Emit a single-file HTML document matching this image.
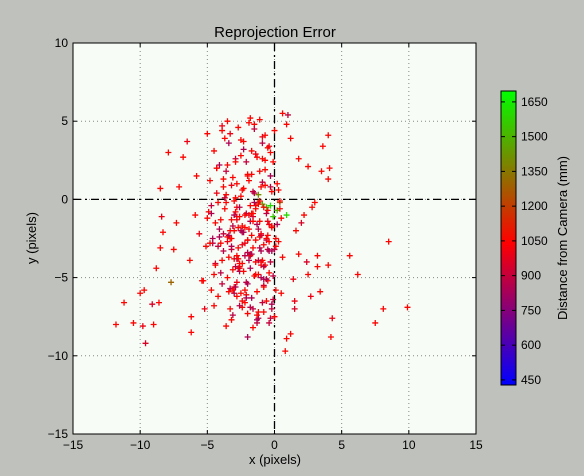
<!DOCTYPE html>
<html><head><meta charset="utf-8"><style>
html,body{margin:0;padding:0;background:#bfc1bd;}
svg{display:block;font-family:"Liberation Sans","DejaVu Sans",sans-serif;}
</style></head><body>
<svg id="chart" width="584" height="476" viewBox="0 0 584 476" xmlns="http://www.w3.org/2000/svg">
<rect x="0" y="0" width="584" height="476" fill="#bfc1bd"/>
<text x="275" y="37" font-size="15" text-anchor="middle" fill="#000">Reprojection Error</text>
<rect x="73" y="43" width="403" height="391" fill="#f7fcf7"/>
<g id="grid"></g>
<g id="refs"></g>
<g id="marks"></g>
<rect x="73" y="43" width="403" height="391" fill="none" stroke="#000" stroke-width="1"/>
<g id="ticks"></g>
<text x="275" y="464" font-size="13" text-anchor="middle">x (pixels)</text>
<text transform="translate(36,238) rotate(-90)" font-size="13" text-anchor="middle">y (pixels)</text>
<defs><linearGradient id="cmap" x1="0" y1="1" x2="0" y2="0">
<stop offset="0" stop-color="#0000ff"/><stop offset="0.484" stop-color="#ff0000"/><stop offset="1" stop-color="#00ff00"/>
</linearGradient></defs>
<rect x="501" y="91" width="15" height="294" fill="url(#cmap)" stroke="#000" stroke-width="1"/>
<g id="cbticks"></g>
<text transform="translate(567,238) rotate(-90)" font-size="13" text-anchor="middle">Distance from Camera (mm)</text>
</svg>
<script>
const xTicks=[-15,-10,-5,0,5,10,15];
const yTicks=[-15,-10,-5,0,5,10];
const cbTicks=[450,600,750,900,1050,1200,1350,1500,1650];
const ptX=[-11.8,-11.2,-10.5,-9.8,-9.6,-9.7,-10,-9.1,-9,-8.8,-8.6,-8.5,-8.3,-8.4,-8.5,-7.9,-7.7,-7.5,-7.3,-7.1,-6.8,-6.5,-6.3,-6.2,-6.2,-5.9,-5.8,-5.6,-5.4,-5.2,-5,-4.7,
9.9,8.5,8.1,7.5,6.2,5.6,4.2,4.3,4,4,4,3.6,3.4,3.2,3,2.8,2.5,2.4,2.2,1.8,1.5,1.2,1,0.9,0.8,0.5,0.2,1.5,2.7,3.5,1.8,2.5,1.4,3.2,4.1,
-0.6,-0.3,0.2,-0.1,0.9,-0.9,-1.2,0.4,
-4.8,-4.6,-4.5,-4.4,-4.3,-4.2,-4.1,-4.0,-3.9,-3.8,-3.7,-3.6,-3.5,-3.4,-3.3,-3.2,-3.1,-3.0,-2.9,-2.8,-2.7,-2.6,-2.5,-2.4,-2.3,-2.2,-2.1,-2.0,-1.9,-1.8,-1.7,-1.6,-1.5,-1.4,-1.3,-1.2,-1.1,-1.0,-0.9,-0.8,-0.7,-0.6,-0.5,-0.4,-0.3,-0.2,-0.1,0.0,0.1,0.3,
-4.7,-4.5,-4.3,-4.1,-3.9,-3.7,-3.5,-3.3,-3.1,-2.9,-2.7,-2.5,-2.3,-2.1,-1.9,-1.7,-1.5,-1.3,-1.1,-0.9,-0.7,-0.5,-0.3,-0.1,0.1,0.4,0.6,
-4.4,-4.0,-3.6,-3.2,-2.8,-2.4,-2.0,-1.6,-1.2,-0.8,-0.4,0.0,0.5,-3.8,-3.4,-3.0,-2.6,-2.2,-1.8,-1.4,-1.0,-0.6,-0.2,
-4.9,-4.2,-3.5,-2.8,-2.1,-1.4,-0.7,0.1,-3.9,-3.2,-2.5,-1.8,-1.1,-0.4,-4.6,-3.0,-2.3,-1.6,-0.9,-0.2,-2.7,-2.0,-1.3,-0.5,
-3.6,-2.9,-2.2,-1.5,-0.8,-0.1,-3.3,-2.6,-1.9,-1.2,-0.5,-2.4,-1.7,-1.0,-3.1,-2.0,-1.1,-0.3,-4.0,-2.8,-1.9,-0.9,
-3.0,-2.6,-2.2,-1.8,-1.4,-1.0,-0.6,-0.2,-3.2,-2.8,-2.4,-2.0,-1.6,-1.2,-0.8,-0.4,-3.4,-3.0,-2.6,-2.2,-1.8,-1.4,-1.0,-0.6,
-3.1,-2.7,-2.3,-1.9,-1.5,-1.1,-0.7,-0.3,-3.5,-2.9,-2.5,-2.1,-1.7,-1.3,-0.9,-0.5,-3.7,-3.3,-2.9,-2.5,-2.1,-1.7,-1.3,-0.9,
-2.8,-2.4,-2.0,-1.6,-1.2,-0.8,-0.4,0.0,-3.6,-3.2,-2.8,-2.4,-2.0,-1.6,-1.2,-0.8,-4.2,-3.8,-3.4,-2.6,-1.8,-1.0,-0.2,0.3,
-2.7,-2.3,-1.9,-1.5,-1.1,-0.7,-3.9,-3.5,-3.1,-4.5,-4.1,-5.1,-5.3,-4.8,-4.4,-0.3,0.2,0.6,0.9,1.2,1.6,2.0,-0.5,0.4,
-1.6,-1.2,-0.8,-0.4,-2.0,-2.4,-2.8,-3.2,-1.4,-1.0,-0.6,-2.2,-2.6,-3.0,-1.8,-0.2,-3.8,-4.3,-4.7,-5.0,-2.9,-3.3,-1.7,-1.3];
const ptY=[-8,-6.6,-7.9,-8.1,-9.2,-5.8,-6,-6.7,-8,-4.4,-6.6,-3.1,-2.1,-1.1,0.7,3,-5.3,-3.2,-1.5,0.8,2.7,3.7,-3.9,-7.5,-8.5,-1,1.5,-2.2,-5.2,-7,4.2,-5.8,
-6.9,-2.7,-7,-7.9,-4.8,-3.6,-8.8,-7.6,-4.2,4.1,1.3,3.4,-5.9,-3.6,-0.2,-0.5,2.1,-4,-1,-3.5,-6.5,-8.6,5.4,-8.9,-9.7,-6,1,-7,-6.2,1.8,2.6,-4.8,-5.1,-4.3,2,
-0.5,-0.4,-0.7,-1.1,-1,-0.3,-0.2,-0.2,
1.2,-2.5,3.1,-4.1,0.4,-6.2,2.2,-1.3,4.4,-3.3,-0.6,1.8,-5.0,3.6,-2.0,0.9,-7.4,-3.8,2.6,-1.1,4.6,-4.6,0.2,-2.9,3.2,-6.6,-0.9,1.5,-3.6,5.2,-2.3,0.5,-4.9,2.9,-1.6,-7.2,-3.1,0.8,4.0,-5.5,1.9,-2.6,-0.7,3.4,-4.0,-1.8,2.4,-3.2,-5.8,0.6,
-0.4,-6.8,2.0,-1.9,-3.9,0.1,-2.7,-5.7,1.4,-0.8,-4.4,3.8,-2.1,-6.1,-1.0,-3.5,4.8,-7.9,-2.4,1.1,-4.2,-1.4,3.0,-6.4,-3.0,-0.1,-3.7,
-1.5,-4.7,-0.2,-3.0,-5.3,-1.7,-3.4,-8.2,-0.3,-5.1,-2.7,4.4,-1.2,-2.2,-5.9,-1.0,-4.3,-2.8,-6.9,-0.4,-3.3,-2.5,-7.0,
-0.8,-3.0,-2.4,-0.5,-6.3,-4.0,2.5,-2.5,-5.4,-1.3,-2.0,-3.6,-0.1,-1.6,-2.8,-6.0,-4.6,-1.1,-3.9,-6.7,-3.1,-2.6,-7.7,-5.2,
0.3,-4.3,-1.8,-0.2,-5.6,-4.9,-7.0,-4.4,-3.9,-4.8,-3.2,-6.5,-0.9,-2.3,-5.8,-8.8,-1.4,-7.6,-2.8,-3.8,-1.9,2.6,-5.6,-0.5,
-1.0,-1.4,-0.6,-2.2,-0.9,-1.7,-2.5,-1.3,-2.1,-2.6,-3.1,-1.9,-2.9,-3.3,-3.7,-2.0,-4.1,-3.6,-4.4,-4.8,-4.2,-5.1,-4.5,-3.8,
0.7,1.2,0.4,1.8,0.9,1.5,2.2,0.1,2.8,2.4,3.1,2.7,3.6,3.3,3.9,4.2,-5.6,-6.0,-5.3,-6.3,-5.9,-6.6,-6.2,-6.9,
-7.3,-7.0,-7.6,-7.2,-7.9,-7.5,-8.1,-7.7,1.0,0.6,1.6,-0.9,0.3,-0.5,-0.2,0.8,-2.3,-1.1,-3.5,-4.0,-3.3,-2.7,-1.8,3.7,
4.9,4.5,5.1,4.1,4.7,5.0,-1.7,-4.8,-2.4,-3.0,-5.2,-2.8,-4.2,0.8,-1.6,5.5,4.8,3.9,-2.0,-1.5,-2.3,-0.6,-1.4,-3.9,
-4.3,-4.7,-5.4,-4.1,-3.6,-3.2,-2.6,-5.0,-6.5,-5.8,-6.8,-0.1,-0.4,0.5,1.3,2.0,-0.9,-1.2,2.4,-2.5,1.6,-7.4,-8.4,-8.8];
const ptD=[1050,1050,1050,1000,950,1050,1050,950,1050,1050,1050,1050,1050,1000,1050,1050,1300,1050,1050,1050,1050,1000,1050,1050,1050,1050,1050,1000,1050,1000,1050,1050,
1050,1050,1050,1050,1050,1050,1050,1000,1050,1050,1050,1050,1050,1050,1050,1050,1050,950,1050,1050,1000,1050,900,1050,1050,1050,1050,950,1000,1050,1050,1050,1000,1050,1050,
1550,1600,1500,1550,1600,1450,1400,1300,
1050,850,1050,900,1000,1050,850,1050,1050,880,1050,900,1050,850,1050,1000,880,1050,900,1050,1050,850,1050,1000,850,1050,900,1050,850,1050,1050,900,1050,1000,850,1050,880,1050,1000,900,1050,850,1050,1000,900,1050,1050,880,1050,1050,
900,1050,1050,850,1050,900,1000,850,1050,1050,900,1050,850,1050,1000,850,1050,900,1050,880,1050,1000,1050,900,1050,1050,1050,
1050,880,1050,850,1000,1050,880,1050,1050,850,1050,1050,1050,900,1050,850,1050,1000,880,1050,850,1050,900,
1050,900,1050,1050,850,1050,1050,1050,900,1050,850,1050,1050,1000,850,880,1050,900,1050,850,1050,1000,850,1050,
1050,900,1050,850,1050,880,1050,1000,850,1050,900,1050,1050,880,1050,850,1050,900,1050,850,1050,1050,1050,880,
1050,850,1050,1000,880,1050,1050,1000,850,1050,1050,880,1050,850,1050,1050,1050,880,850,1050,1000,850,1050,1050,
1050,1050,880,1050,1050,850,1050,1050,1050,900,1050,1050,880,1050,1050,1000,850,1050,880,850,1050,900,1050,1050,
1050,880,850,1050,900,1050,1050,1050,1050,1050,1050,1050,1400,1050,1050,1050,850,1050,880,1050,850,1050,1050,1050,
1050,900,1050,1050,1000,1050,880,1050,850,1050,1050,1050,1050,900,850,1050,1050,1050,1050,950,1050,1050,1050,900,
880,1050,850,1050,1050,900,1050,850,1050,1050,880,1050,1050,1050,1050,1050,850,1050,1050,1050,1050,1050,1050,1050];

const X0=73,X1=476,Y0=434,Y1=43;
const sx=v=>X0+(v+15)/30*(X1-X0);
const sy=v=>Y0-(v+15)/25*(Y0-Y1);
const cbTop=91,cbBot=385,cbMin=428,cbMax=1697;
const cy=v=>cbBot-(v-cbMin)/(cbMax-cbMin)*(cbBot-cbTop);
const NS='http://www.w3.org/2000/svg';
function mk(tag,attrs,parent){const e=document.createElementNS(NS,tag);for(const k in attrs)e.setAttribute(k,attrs[k]);parent.appendChild(e);return e;}
function color(d){const t=Math.max(0,Math.min(1,(d-cbMin)/(cbMax-cbMin)));const m=0.484;
 if(t<m){const u=t/m;return `rgb(${Math.round(255*u)},0,${Math.round(255*(1-u))})`;}
 const u=(t-m)/(1-m);return `rgb(${Math.round(255*(1-u))},${Math.round(255*u)},0)`;}
const grid=document.getElementById('grid'),ticks=document.getElementById('ticks'),refs=document.getElementById('refs'),marks=document.getElementById('marks'),cbt=document.getElementById('cbticks');
xTicks.forEach(v=>{const x=sx(v);
 if(v>-15&&v<15){const g=mk('line',{x1:x,x2:x,y1:Y1,y2:Y0,stroke:'#888','stroke-dasharray':'1,3','stroke-width':1},grid);
 
 }
 const t=mk('text',{x:x,y:Y0+15,'font-size':12,'text-anchor':'middle'},ticks);t.textContent=(v<0?'\u2212'+(-v):v);
 
 
 mk('line',{x1:x,x2:x,y1:Y0,y2:Y0-4,stroke:'#000'},ticks);mk('line',{x1:x,x2:x,y1:Y1,y2:Y1+4,stroke:'#000'},ticks);});
yTicks.forEach(v=>{const y=sy(v);
 if(v>-15&&v<10){const g=mk('line',{x1:X0,x2:X1,y1:y,y2:y,stroke:'#888','stroke-dasharray':'1,3','stroke-width':1},grid);
 
 }
 const t=mk('text',{x:X0-5,y:y+4,'font-size':12,'text-anchor':'end'},ticks);t.textContent=(v<0?'\u2212'+(-v):v);
 
 
 mk('line',{x1:X0,x2:X0+4,y1:y,y2:y,stroke:'#000'},ticks);mk('line',{x1:X1,x2:X1-4,y1:y,y2:y,stroke:'#000'},ticks);});
const rv=mk('line',{x1:sx(0),x2:sx(0),y1:Y1,y2:Y0,stroke:'#000','stroke-width':1.3,'stroke-dasharray':'8,4,2,4'},refs);


const rh=mk('line',{x1:X0,x2:X1,y1:sy(0),y2:sy(0),stroke:'#000','stroke-width':1.3,'stroke-dasharray':'8,4,2,4'},refs);


ptX.forEach((xv,i)=>{const x=sx(xv),y=sy(ptY[i]);
 const p=mk('path',{d:`M${x-3},${y}H${x+3}M${x},${y-3}V${y+3}`,stroke:color(ptD[i]),'stroke-width':1.3,fill:'none'},marks);
 
 });
cbTicks.forEach(v=>{const y=cy(v);
 mk('line',{x1:501,x2:505,y1:y,y2:y,stroke:'#000'},cbt);mk('line',{x1:516,x2:512,y1:y,y2:y,stroke:'#000'},cbt);
 const t=mk('text',{x:521,y:y+4,'font-size':12},cbt);t.textContent=v;
 
 });
</script>
</body></html>
